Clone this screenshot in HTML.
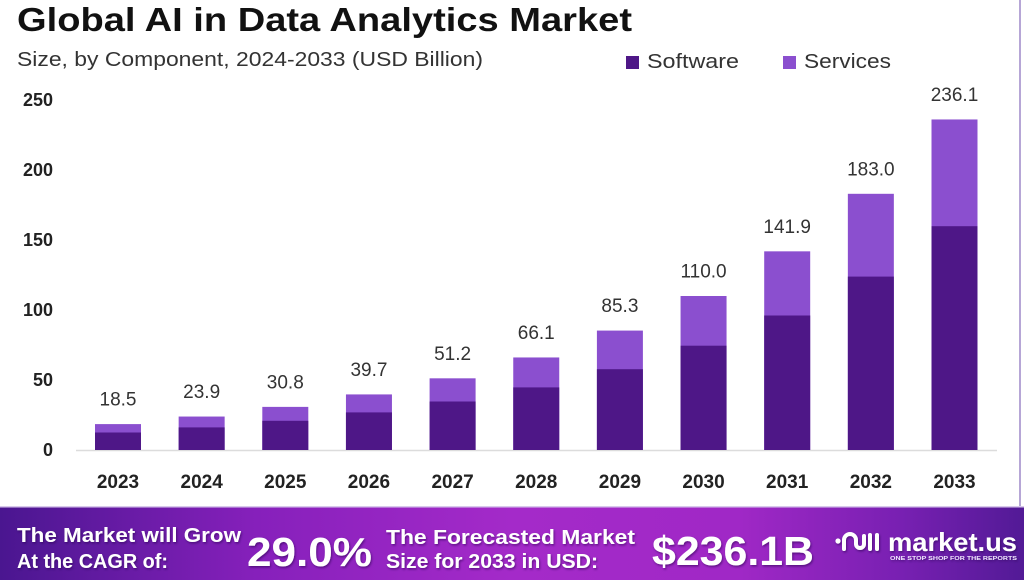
<!DOCTYPE html>
<html>
<head>
<meta charset="utf-8">
<style>
  html,body{margin:0;padding:0;background:#fff;}
  svg{display:block;}
  text{font-family:"Liberation Sans",Arial,sans-serif;}
</style>
</head>
<body>
<svg width="1024" height="580" viewBox="0 0 1024 580" xmlns="http://www.w3.org/2000/svg">
  <defs>
    <linearGradient id="ban" x1="0" y1="0" x2="1" y2="0">
      <stop offset="0" stop-color="#4a1690"/>
      <stop offset="0.25" stop-color="#8620bb"/>
      <stop offset="0.5" stop-color="#a42ac9"/>
      <stop offset="0.72" stop-color="#a028c6"/>
      <stop offset="0.88" stop-color="#7820b2"/>
      <stop offset="1" stop-color="#521a96"/>
    </linearGradient>
    <filter id="sh" x="-10%" y="-20%" width="120%" height="150%">
      <feDropShadow dx="1" dy="1.5" stdDeviation="1" flood-color="#2a0050" flood-opacity="0.55"/>
    </filter>
  </defs>

  <rect width="1024" height="580" fill="#fff"/>

  <!-- right border line -->
  <rect x="1019" y="0" width="2" height="507" fill="#b6a6d6"/>

  <!-- Title -->
  <text x="17" y="31" font-size="33" font-weight="bold" fill="#111" textLength="615" lengthAdjust="spacingAndGlyphs">Global AI in Data Analytics Market</text>
  <text x="17" y="66" font-size="20" fill="#333" textLength="466" lengthAdjust="spacingAndGlyphs">Size, by Component, 2024-2033 (USD Billion)</text>

  <!-- Legend -->
  <rect x="626" y="56" width="13" height="13" fill="#4e1787"/>
  <text x="647" y="68" font-size="20" fill="#333" textLength="92" lengthAdjust="spacingAndGlyphs">Software</text>
  <rect x="783" y="56" width="13" height="13" fill="#8b4fcf"/>
  <text x="804" y="68" font-size="20" fill="#333" textLength="87" lengthAdjust="spacingAndGlyphs">Services</text>

  <!-- Y axis labels -->
  <g font-size="18" font-weight="bold" fill="#222" text-anchor="end">
    <text x="53" y="106">250</text>
    <text x="53" y="176">200</text>
    <text x="53" y="246">150</text>
    <text x="53" y="316">100</text>
    <text x="53" y="386">50</text>
    <text x="53" y="456">0</text>
  </g>

  <!-- baseline -->
  <line x1="76" y1="450.5" x2="997" y2="450.5" stroke="#dcdcdc" stroke-width="1.5"/>

  <!-- Bars: services (total) then software -->
  <g fill="#8b4fcf">
    <rect x="95.0" y="424.1" width="46" height="25.9"/>
    <rect x="178.65" y="416.54" width="46" height="33.46"/>
    <rect x="262.3" y="406.88" width="46" height="43.12"/>
    <rect x="345.95" y="394.42" width="46" height="55.58"/>
    <rect x="429.6" y="378.32" width="46" height="71.68"/>
    <rect x="513.25" y="357.46" width="46" height="92.54"/>
    <rect x="596.9" y="330.58" width="46" height="119.42"/>
    <rect x="680.55" y="296" width="46" height="154"/>
    <rect x="764.2" y="251.34" width="46" height="198.66"/>
    <rect x="847.85" y="193.8" width="46" height="256.2"/>
    <rect x="931.5" y="119.46" width="46" height="330.54"/>
  </g>
  <g fill="#4e1787">
    <rect x="95.0" y="432.5" width="46" height="17.5"/>
    <rect x="178.65" y="427.4" width="46" height="22.6"/>
    <rect x="262.3" y="420.8" width="46" height="29.2"/>
    <rect x="345.95" y="412.4" width="46" height="37.6"/>
    <rect x="429.6" y="401.5" width="46" height="48.5"/>
    <rect x="513.25" y="387.4" width="46" height="62.6"/>
    <rect x="596.9" y="369.2" width="46" height="80.8"/>
    <rect x="680.55" y="345.7" width="46" height="104.3"/>
    <rect x="764.2" y="315.5" width="46" height="134.5"/>
    <rect x="847.85" y="276.6" width="46" height="173.4"/>
    <rect x="931.5" y="226.2" width="46" height="223.8"/>
  </g>

  <!-- Value labels -->
  <g font-size="19" fill="#333" text-anchor="middle">
    <text x="118.0" y="405.6">18.5</text>
    <text x="201.65" y="398.0">23.9</text>
    <text x="285.3" y="388.4">30.8</text>
    <text x="368.95" y="375.9">39.7</text>
    <text x="452.6" y="359.8">51.2</text>
    <text x="536.25" y="339.0">66.1</text>
    <text x="619.9" y="312.1">85.3</text>
    <text x="703.55" y="277.5">110.0</text>
    <text x="787.2" y="232.8">141.9</text>
    <text x="870.85" y="175.3">183.0</text>
    <text x="954.5" y="101.0">236.1</text>
  </g>

  <!-- X labels -->
  <g font-size="19" font-weight="bold" fill="#222" text-anchor="middle">
    <text x="118.0" y="488">2023</text>
    <text x="201.65" y="488">2024</text>
    <text x="285.3" y="488">2025</text>
    <text x="368.95" y="488">2026</text>
    <text x="452.6" y="488">2027</text>
    <text x="536.25" y="488">2028</text>
    <text x="619.9" y="488">2029</text>
    <text x="703.55" y="488">2030</text>
    <text x="787.2" y="488">2031</text>
    <text x="870.85" y="488">2032</text>
    <text x="954.5" y="488">2033</text>
  </g>

  <!-- Banner -->
  <rect x="0" y="506" width="1024" height="1.5" fill="#d8c8ec"/>
  <rect x="0" y="507.5" width="1024" height="72.5" fill="url(#ban)"/>

  <g fill="#fff" font-weight="bold" filter="url(#sh)">
    <text x="17" y="542" font-size="20" textLength="224" lengthAdjust="spacingAndGlyphs">The Market will Grow</text>
    <text x="17" y="568" font-size="20" textLength="151" lengthAdjust="spacingAndGlyphs">At the CAGR of:</text>
    <text x="247" y="566" font-size="41" textLength="125" lengthAdjust="spacingAndGlyphs">29.0%</text>
    <text x="386" y="544" font-size="20" textLength="249" lengthAdjust="spacingAndGlyphs">The Forecasted Market</text>
    <text x="386" y="568" font-size="20" textLength="212" lengthAdjust="spacingAndGlyphs">Size for 2033 in USD:</text>
    <text x="652" y="565" font-size="41" textLength="162" lengthAdjust="spacingAndGlyphs">$236.1B</text>
  </g>

  <!-- market.us logo -->
  <g filter="url(#sh)">
    <circle cx="838" cy="541" r="2.6" fill="#fff"/>
    <path d="M844,549 V540 a6,6 0 0 1 12,0 v4 a4,4 0 0 0 8,0 V536" fill="none" stroke="#fff" stroke-width="4" stroke-linecap="round"/>
    <line x1="870" y1="535" x2="870" y2="549" stroke="#fff" stroke-width="4" stroke-linecap="round"/>
    <line x1="877" y1="535" x2="877" y2="549" stroke="#fff" stroke-width="4" stroke-linecap="round"/>
    <text x="888" y="551" font-size="26" font-weight="bold" fill="#fff" textLength="129" lengthAdjust="spacingAndGlyphs">market.us</text>
    <text x="890" y="560" font-size="5.5" font-weight="bold" fill="#f0e6ff" textLength="127" lengthAdjust="spacingAndGlyphs">ONE STOP SHOP FOR THE REPORTS</text>
  </g>
</svg>
</body>
</html>
